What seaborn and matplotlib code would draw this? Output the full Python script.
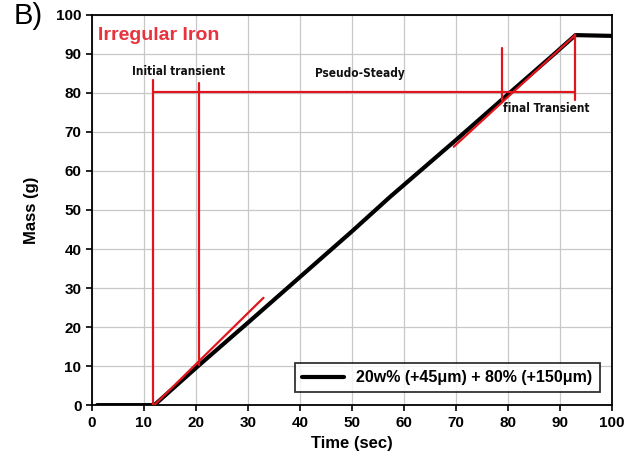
import numpy as np
import matplotlib.pyplot as plt
import seaborn as sns
import pandas as pd
from matplotlib import font_manager

# black mass curve
time_s = [1, 12, 20.5, 30, 40, 50, 57.3, 70, 80, 88.7, 93, 100]
mass_g = [0, 0, 10.1, 21.1, 32.8, 44.5, 53.3, 67.9, 79.6, 89.7, 94.8, 94.6]

# red annotation segments (x0, x1, y0, y1)
seg_x0 = [11.7, 20.6, 11.7, 78.8, 93.0, 12.0, 69.6]
seg_x1 = [11.7, 20.6, 93.0, 78.8, 93.0, 33.0, 93.0]
seg_y0 = [0.0, 10.2, 80.3, 78.2, 78.2, 0.0, 66.2]
seg_y1 = [83.3, 82.6, 80.3, 91.4, 94.9, 27.5, 94.9]

phase_labels = ["Initial transient", "Pseudo-Steady", "final Transient"]
phase_x = [16.6, 51.5, 87.3]
phase_y = [85.6, 85.0, 76.0]

series_name = "20w% (+45\u03bcm) + 80% (+150\u03bcm)"

sns.set_style("white")
plt.rcParams['font.family'] = ['Liberation Sans', 'DejaVu Sans']
plt.rcParams['text.color'] = 'black'
plt.rcParams['axes.labelcolor'] = 'black'
plt.rcParams['xtick.color'] = 'black'
plt.rcParams['ytick.color'] = 'black'

# condensed face for the phase labels, if the system has one
names = {f.name for f in font_manager.fontManager.ttflist}
if 'Liberation Sans Narrow' in names:
    narrow = dict(family=['Liberation Sans Narrow'], fontweight='bold')
elif 'DejaVu Sans Condensed' in names:
    narrow = dict(family=['DejaVu Sans Condensed'], fontweight='bold')
else:
    narrow = dict(family=['DejaVu Sans'], fontstretch='condensed',
                  fontweight='bold')

fig = plt.figure(figsize=(6.38, 4.63), dpi=100)
ax = fig.add_axes([0.144, 0.125, 0.815, 0.843])

df = pd.DataFrame({'Time (sec)': time_s, 'Mass (g)': mass_g})
sns.lineplot(data=df, x='Time (sec)', y='Mass (g)', color='black', lw=3,
             label=series_name, ax=ax, zorder=3)

for x0, x1, y0, y1 in zip(seg_x0, seg_x1, seg_y0, seg_y1):
    ax.plot([x0, x1], [y0, y1], color='#e0161e', lw=1.6, zorder=4)

for lab, x, y in zip(phase_labels, phase_x, phase_y):
    ax.text(x, y, lab, ha='center', va='center', fontsize=8.5,
            color='#111111', **narrow)

ax.text(1.2, 94.8, "Irregular Iron", color='#e8323c', fontsize=14,
        fontweight='bold', va='center', ha='left')

ax.set_xlim(0, 100)
ax.set_ylim(0, 100)
ax.set_xticks(range(0, 101, 10))
ax.set_yticks(range(0, 101, 10))
ax.grid(True, color='#c8c8c8', lw=0.9)
ax.tick_params(axis='both', direction='out', length=4, width=1.2,
               labelsize=11, bottom=True, left=True)
for lab in ax.get_xticklabels() + ax.get_yticklabels():
    lab.set_fontweight('bold')
for sp in ax.spines.values():
    sp.set_color('black')
    sp.set_linewidth(1.3)

ax.set_xlabel('Time (sec)', fontsize=12, fontweight='bold', labelpad=5)
ax.set_ylabel('Mass (g)', fontsize=12, fontweight='bold', labelpad=12)

leg = ax.legend(loc='lower right', fontsize=11.5, frameon=True,
                fancybox=False, handlelength=2.6, borderpad=0.45,
                bbox_to_anchor=(0.992, 0.012))
leg.get_frame().set_edgecolor('black')
leg.get_frame().set_linewidth(1.3)
for t in leg.get_texts():
    t.set_fontweight('bold')

fig.text(0.022, 0.995, "B)", fontsize=21, va='top', ha='left')

fig.savefig('out.png', dpi=100)
